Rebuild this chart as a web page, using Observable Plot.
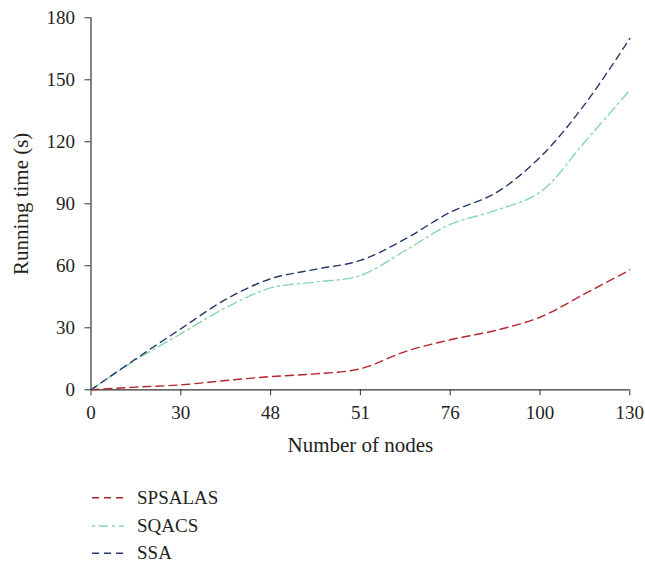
<!DOCTYPE html>
<html>
<head>
<meta charset="utf-8">
<script src="https://cdn.jsdelivr.net/npm/d3@7"></script>
<script src="https://cdn.jsdelivr.net/npm/@observablehq/plot@0.6"></script>
<style>
  html, body { margin: 0; padding: 0; background: #fff; }
  body { width: 645px; height: 567px; overflow: hidden; font-family: "Liberation Serif", serif; }
  #chart svg { display: block; }
  #legend { display: block; }
</style>
</head>
<body>
<div id="chart"></div>
<svg id="legend" width="645" height="97"></svg>
<script>
// X tick labels (evenly spaced categorical positions)
const xTickLabels = ["0", "30", "48", "51", "76", "100", "130"];
// Sample positions along the x axis (in tick-index units)
const positions = [0, 0.5, 1, 1.5, 2, 2.5, 3, 3.5, 4, 4.5, 5, 5.5, 6];
// Series values
const spsalas = [0, 1.3, 2.4, 4.5, 6.4, 7.7, 10.2, 18.5, 24.2, 28.7, 35.1, 46.5, 58];
const sqacs   = [0, 14.5, 27.1, 39.7, 49.3, 52.1, 55.3, 67.4, 80, 86.7, 95.6, 120, 145];
const ssa     = [0, 15, 29.5, 43.7, 53.7, 58.3, 62.6, 73, 85.9, 95.1, 112.5, 138.2, 170];
const yTicks = [0, 30, 60, 90, 120, 150, 180];

const seriesNames = ["SPSALAS", "SQACS", "SSA"];
const seriesValues = [spsalas, sqacs, ssa];
const seriesColors = ["#b3262e", "#86d7ae", "#27386b"];
const seriesDash = ["8,5", "10,4,2,4", "7,5"];

const series = seriesNames.map((name, k) => ({
  name,
  color: seriesColors[k],
  dash: seriesDash[k],
  data: positions.map((p, i) => ({ pos: p, value: seriesValues[k][i] }))
}));

const font = "Liberation Serif";
const textColor = "#231f20";

const chart = Plot.plot({
  width: 645,
  height: 470,
  marginLeft: 90.5,
  marginRight: 15.7,
  marginTop: 17.3,
  marginBottom: 80.7,
  style: { fontFamily: font, color: textColor, background: "#fff", overflow: "visible" },
  x: { type: "linear", domain: [0, 6] },
  y: { type: "linear", domain: [0, 180] },
  marks: [
    Plot.axisX({
      ticks: xTickLabels.map((_, i) => i),
      tickFormat: i => xTickLabels[i],
      tickSize: 6,
      tickPadding: 10,
      fontSize: 19,
      stroke: "#333",
      label: "Number of nodes",
      labelAnchor: "center",
      labelArrow: "none",
      labelOffset: 62
    }),
    Plot.axisY({
      ticks: yTicks,
      tickSize: 6,
      tickPadding: 10,
      fontSize: 19,
      stroke: "#333",
      label: "Running time (s)",
      labelAnchor: "center",
      labelArrow: "none",
      labelOffset: 78
    }),
    Plot.ruleX([0], { stroke: "#333", strokeWidth: 1.2 }),
    Plot.ruleY([0], { stroke: "#333", strokeWidth: 1.2 }),
    ...series.map(s => Plot.line(s.data, {
      x: "pos",
      y: "value",
      stroke: s.color,
      strokeWidth: 1.4,
      strokeDasharray: s.dash,
      curve: "catmull-rom"
    }))
  ]
});
document.getElementById("chart").appendChild(chart);

// axis label font size
d3.select(chart).selectAll("g[aria-label='x-axis label'] text, g[aria-label='y-axis label'] text")
  .attr("font-size", 21);

// Legend below the chart
const legend = d3.select("#legend");
const rowY = [27.7, 56, 83.3];
series.forEach((s, k) => {
  legend.append("line")
    .attr("x1", 92).attr("x2", 124)
    .attr("y1", rowY[k]).attr("y2", rowY[k])
    .attr("stroke", s.color)
    .attr("stroke-width", 1.6)
    .attr("stroke-dasharray", k === 1 ? "3,4,9,4" : "7,5");
  legend.append("text")
    .attr("x", 137)
    .attr("y", rowY[k] + 6)
    .attr("font-family", font)
    .attr("font-size", 19)
    .attr("fill", textColor)
    .text(s.name);
});
</script>
</body>
</html>
